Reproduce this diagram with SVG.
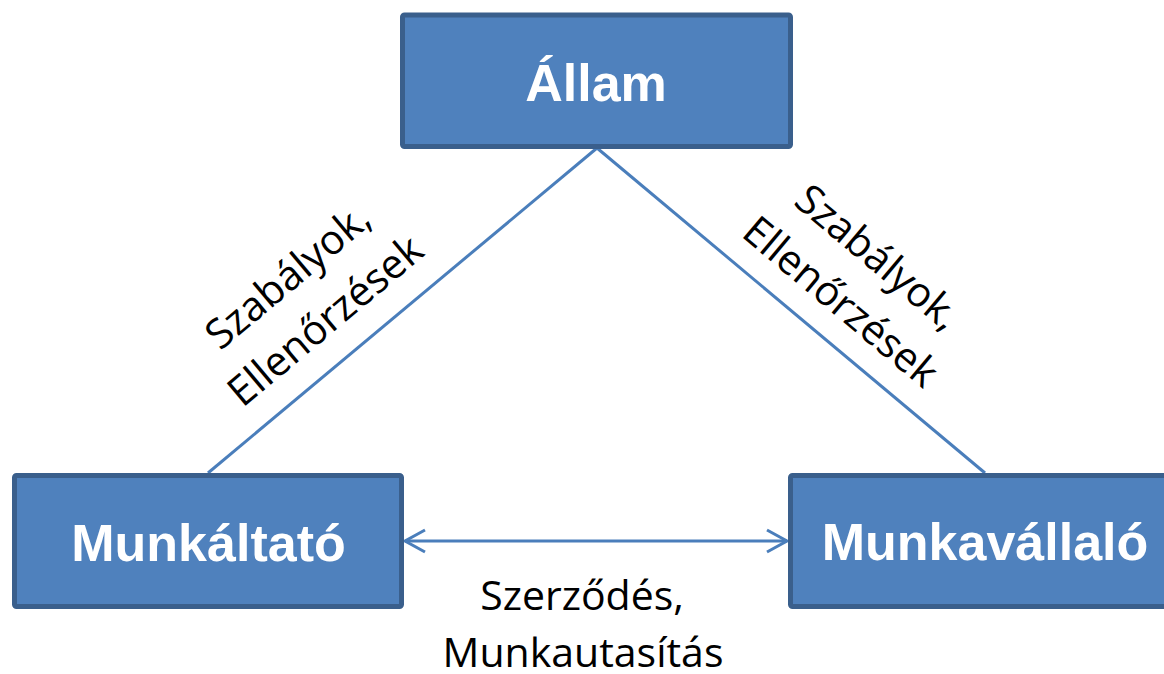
<svg xmlns="http://www.w3.org/2000/svg" width="1164" height="674" viewBox="0 0 1164 674">
<style>
.box{fill:#4f81bd;stroke:#3a5f8c;stroke-width:5}
.title{font-family:"Liberation Sans",Arial,sans-serif;font-weight:bold;font-size:52px;fill:#ffffff;text-anchor:middle}
.lbl{font-family:"Open Sans","Noto Sans",sans-serif;font-size:41px;fill:#000000;text-anchor:middle}
.conn{stroke:#4a7ebb;stroke-width:3;fill:none}
</style>
<defs>
<marker id="arr" viewBox="-24 -14 28 28" refX="0" refY="0" markerWidth="28" markerHeight="28" markerUnits="userSpaceOnUse" orient="auto-start-reverse">
<path d="M-20,-11 L0,0 L-20,11" fill="none" stroke="#4a7ebb" stroke-width="3"/>
</marker>
</defs>
<rect width="1164" height="674" fill="#ffffff"/>
<g id="connectors">
<line class="conn" x1="597" y1="148" x2="208" y2="473"/>
<line class="conn" x1="597" y1="148" x2="985" y2="473"/>
<line class="conn" x1="405" y1="541" x2="787" y2="541" marker-start="url(#arr)" marker-end="url(#arr)"/>
</g>
<g id="allam">
<rect class="box" x="402.5" y="15" width="388" height="131.5" rx="2"/>
<text class="title" x="596" y="101">Állam</text>
</g>
<g id="munkaltato">
<rect class="box" x="14.5" y="475.5" width="387" height="131" rx="2"/>
<text class="title" x="208.5" y="561">Munkáltató</text>
</g>
<g id="munkavallalo">
<rect class="box" x="790.5" y="475.5" width="390" height="131" rx="2"/>
<text class="title" x="985" y="560">Munkavállaló</text>
</g>
<g id="label-left" transform="translate(297,287) rotate(-40)">
<text class="lbl" x="0" y="0">Szabályok,</text>
<text class="lbl" x="0" y="58">Ellenőrzések</text>
</g>
<g id="label-right" transform="translate(869,268) rotate(40)">
<text class="lbl" x="0" y="0">Szabályok,</text>
<text class="lbl" x="0" y="58">Ellenőrzések</text>
</g>
<g id="label-bottom">
<text class="lbl" x="582" y="610">Szerződés,</text>
<text class="lbl" x="583" y="667">Munkautasítás</text>
</g>
</svg>
